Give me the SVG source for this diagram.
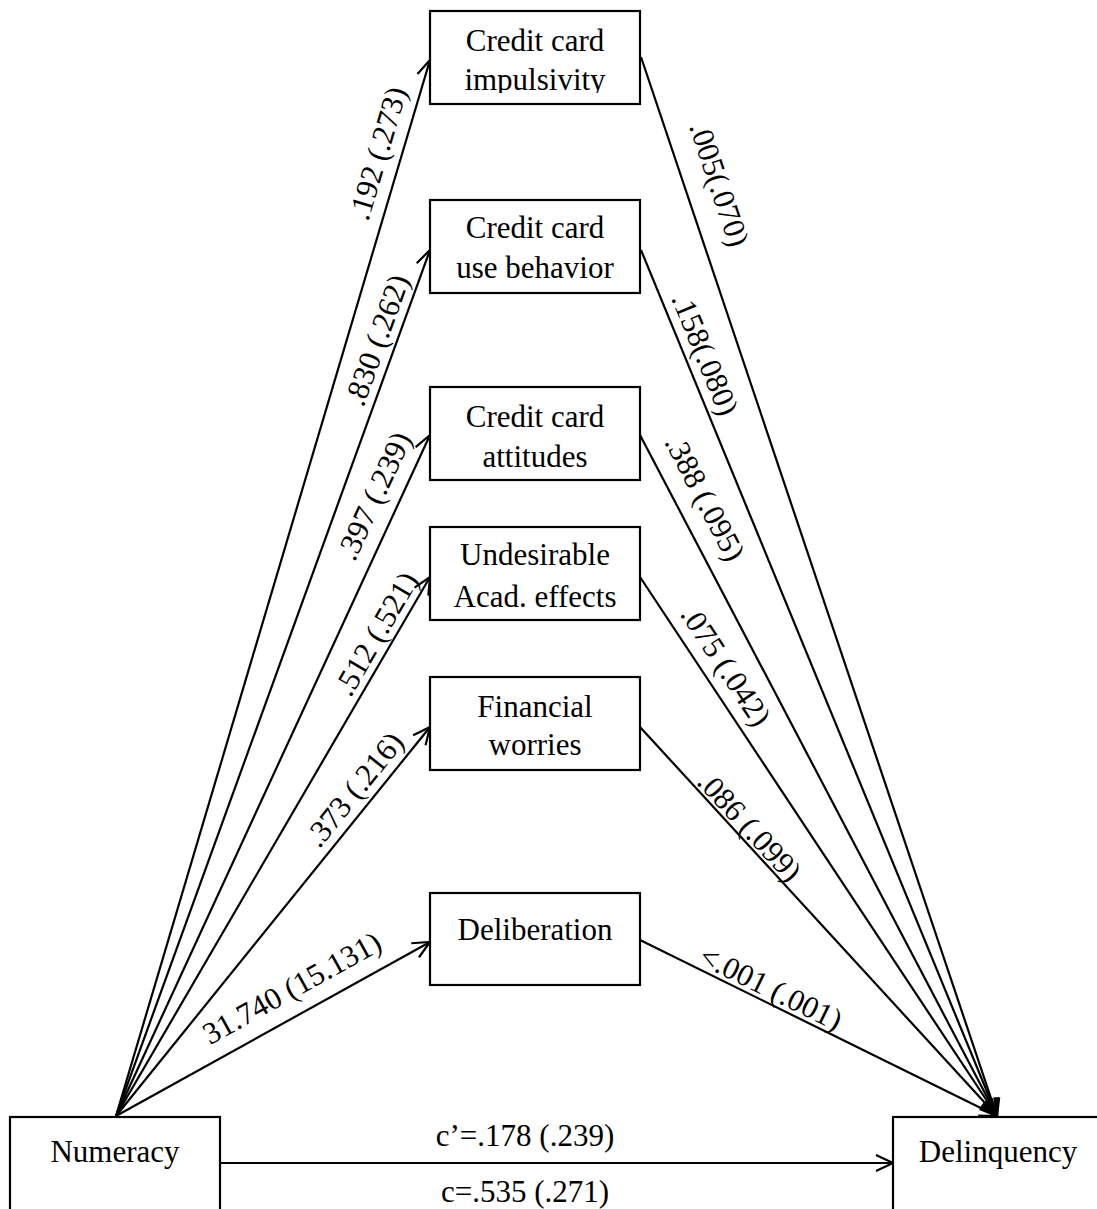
<svg xmlns="http://www.w3.org/2000/svg" width="1097" height="1209" viewBox="0 0 1097 1209">
<style>
.box{fill:#fff;stroke:#000;stroke-width:2.2}
.t{font-family:"Liberation Serif","Times New Roman",serif;font-size:31px;fill:#000;text-anchor:middle}
.c{fill:none;stroke:#000;stroke-width:2.2}
</style>
<defs>
<marker id="ah" markerUnits="userSpaceOnUse" markerWidth="24" markerHeight="24" viewBox="-20 -12 24 24" refX="0" refY="0" orient="auto">
<path d="M-17,-8 L0,0 L-17,8" fill="none" stroke="#000" stroke-width="2.2"/>
</marker>
<clipPath id="clip1"><rect x="430" y="11" width="210" height="82"/></clipPath>
</defs>
<rect width="1097" height="1209" fill="#fff"/>
<g id="connectors">
<line class="c" x1="116" y1="1116" x2="430" y2="60" marker-end="url(#ah)"/>
<line class="c" x1="116" y1="1116" x2="430" y2="250" marker-end="url(#ah)"/>
<line class="c" x1="116" y1="1116" x2="430" y2="435" marker-end="url(#ah)"/>
<line class="c" x1="116" y1="1116" x2="430" y2="577" marker-end="url(#ah)"/>
<line class="c" x1="116" y1="1116" x2="430" y2="727" marker-end="url(#ah)"/>
<line class="c" x1="116" y1="1116" x2="430" y2="942" marker-end="url(#ah)"/>
<line class="c" x1="641" y1="57" x2="997" y2="1116" marker-end="url(#ah)"/>
<line class="c" x1="641" y1="250" x2="997" y2="1116" marker-end="url(#ah)"/>
<line class="c" x1="640" y1="435" x2="997" y2="1116" marker-end="url(#ah)"/>
<line class="c" x1="640" y1="577" x2="997" y2="1116" marker-end="url(#ah)"/>
<line class="c" x1="640" y1="727" x2="997" y2="1116" marker-end="url(#ah)"/>
<line class="c" x1="640" y1="940" x2="997" y2="1116" marker-end="url(#ah)"/>
<line class="c" x1="220" y1="1163" x2="893" y2="1163" marker-end="url(#ah)"/>
<g id="labels">
<text class="t" transform="translate(380,154) rotate(-73.4)" dy="8">.192 (.273)</text>
<text class="t" transform="translate(379,341) rotate(-70.1)" dy="8">.830 (.262)</text>
<text class="t" transform="translate(376,497) rotate(-65.2)" dy="8">.397 (.239)</text>
<text class="t" transform="translate(378,635) rotate(-59.8)" dy="8">.512 (.521)</text>
<text class="t" transform="translate(356,791) rotate(-51.2)" dy="8">.373 (.216)</text>
<text class="t" transform="translate(293,990) rotate(-29)" dy="8">31.740 (15.131)</text>
<text class="t" transform="translate(717,185) rotate(71.5)" dy="8">.005(.070)</text>
<text class="t" transform="translate(703,355) rotate(67.7)" dy="8">.158(.080)</text>
<text class="t" transform="translate(703,499) rotate(62.3)" dy="8">.388 (.095)</text>
<text class="t" transform="translate(724,667) rotate(56.5)" dy="8">.075 (.042)</text>
<text class="t" transform="translate(748,828) rotate(47.5)" dy="8">.086 (.099)</text>
<text class="t" transform="translate(770,990) rotate(26.2)" dy="8">&lt;.001 (.001)</text>
<text class="t" x="525" y="1146">c’=.178 (.239)</text>
<text class="t" x="525" y="1202">c=.535 (.271)</text>
</g>
</g>
<g id="n1"><rect class="box" x="430" y="11" width="210" height="93"/><g clip-path="url(#clip1)"><text class="t" x="535" y="51">Credit card</text><text class="t" x="535" y="90">impulsivity</text></g></g>
<g id="n2"><rect class="box" x="430" y="200" width="210" height="93"/><text class="t" x="535" y="238">Credit card</text><text class="t" x="535" y="278">use behavior</text></g>
<g id="n3"><rect class="box" x="430" y="387" width="210" height="93"/><text class="t" x="535" y="427">Credit card</text><text class="t" x="535" y="467">attitudes</text></g>
<g id="n4"><rect class="box" x="430" y="527" width="210" height="93"/><text class="t" x="535" y="565">Undesirable</text><text class="t" x="535" y="607">Acad. effects</text></g>
<g id="n5"><rect class="box" x="430" y="677" width="210" height="93"/><text class="t" x="535" y="717">Financial</text><text class="t" x="535" y="755">worries</text></g>
<g id="n6"><rect class="box" x="430" y="893" width="210" height="92"/><text class="t" x="535" y="940">Deliberation</text></g>
<g id="numeracy"><rect class="box" x="10" y="1117" width="210" height="110"/><text class="t" x="115" y="1162">Numeracy</text></g>
<g id="delinquency"><rect class="box" x="893" y="1117" width="220" height="110"/><text class="t" x="998" y="1162">Delinquency</text></g>
</svg>
